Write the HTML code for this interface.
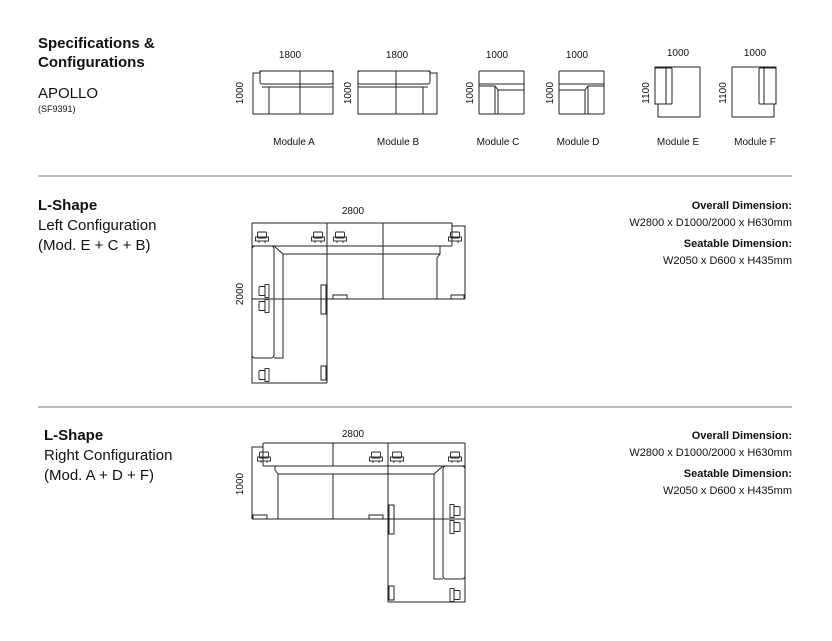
<!DOCTYPE html>
<html><head><meta charset="utf-8"><style>
html,body{margin:0;padding:0;background:#fff;}
svg{display:block;}
text{font-family:"Liberation Sans",Arial,sans-serif;fill:#111;}
</style></head><body>
<svg width="832" height="641" viewBox="0 0 832 641" xmlns="http://www.w3.org/2000/svg">
<defs>
<g id="ch" fill="none" stroke="#222" stroke-width="0.9">
<rect x="-4.5" y="-5" width="9" height="6" rx="1"/>
<rect x="-6.5" y="0" width="13" height="4"/>
<line x1="-3" y1="4" x2="-3" y2="6"/><line x1="3" y1="4" x2="3" y2="6"/>
</g>
<g id="chv" fill="none" stroke="#222" stroke-width="0.9">
<rect x="-5" y="-4.5" width="6" height="9" rx="1"/>
<rect x="1" y="-6.5" width="4" height="13"/>
</g>
</defs>
<text x="38" y="48" font-size="15" font-weight="bold">Specifications &amp;</text>
<text x="38" y="67" font-size="15" font-weight="bold">Configurations</text>
<text x="38" y="98" font-size="15">APOLLO</text>
<text x="38" y="112" font-size="9">(SF9391)</text>
<line x1="38" y1="176" x2="792" y2="176" stroke="#777" stroke-width="1"/>
<line x1="38" y1="407" x2="792" y2="407" stroke="#777" stroke-width="1"/>
<text x="38" y="210" font-size="15" font-weight="bold">L-Shape</text>
<text x="38" y="230" font-size="15">Left Configuration</text>
<text x="38" y="250" font-size="15">(Mod. E + C + B)</text>
<text x="44" y="440" font-size="15" font-weight="bold">L-Shape</text>
<text x="44" y="460" font-size="15">Right Configuration</text>
<text x="44" y="480" font-size="15">(Mod. A + D + F)</text>
<g font-size="11" text-anchor="end">
<text x="792" y="209" font-weight="bold">Overall Dimension:</text>
<text x="792" y="226">W2800 x D1000/2000 x H630mm</text>
<text x="792" y="247" font-weight="bold">Seatable Dimension:</text>
<text x="792" y="264">W2050 x D600 x H435mm</text>
<text x="792" y="439" font-weight="bold">Overall Dimension:</text>
<text x="792" y="456">W2800 x D1000/2000 x H630mm</text>
<text x="792" y="477" font-weight="bold">Seatable Dimension:</text>
<text x="792" y="494">W2050 x D600 x H435mm</text>
</g>
<g font-size="10" text-anchor="middle">
<text x="290" y="58">1800</text><text x="397" y="58">1800</text>
<text x="497" y="58">1000</text><text x="577" y="58">1000</text>
<text x="678" y="56">1000</text><text x="755" y="56">1000</text>
<text x="294" y="145">Module A</text>
<text x="398" y="145">Module B</text>
<text x="498" y="145">Module C</text>
<text x="578" y="145">Module D</text>
<text x="678" y="145">Module E</text>
<text x="755" y="145">Module F</text>
<text transform="translate(243,93) rotate(-90)">1000</text>
<text transform="translate(351,93) rotate(-90)">1000</text>
<text transform="translate(473,93) rotate(-90)">1000</text>
<text transform="translate(553,93) rotate(-90)">1000</text>
<text transform="translate(649,93) rotate(-90)">1100</text>
<text transform="translate(726,93) rotate(-90)">1100</text>
<text x="353" y="214">2800</text>
<text transform="translate(243,294) rotate(-90)">2000</text>
<text x="353" y="437">2800</text>
<text transform="translate(243,484) rotate(-90)">1000</text>
</g>
<g fill="none" stroke="#222" stroke-width="1">
<path d="M253 73 H260 V71 H333 V114 H253 Z"/>
<rect x="260" y="71" width="73" height="13" rx="2"/>
<line x1="300" y1="71" x2="300" y2="114"/>
<line x1="262" y1="87" x2="333" y2="87"/>
<line x1="269" y1="87" x2="269" y2="114"/>
<path d="M358 71 H430 V73 H437 V114 H358 Z"/>
<rect x="358" y="71" width="72" height="13" rx="2"/>
<line x1="396" y1="71" x2="396" y2="114"/>
<line x1="358" y1="87" x2="428" y2="87"/>
<line x1="423" y1="87" x2="423" y2="114"/>
<rect x="479" y="71" width="45" height="43" rx="1"/>
<line x1="479" y1="84" x2="524" y2="84"/>
<path d="M479 86 H495 L498 90 V114 M495 86 V114 M498 90 H524"/>
<rect x="559" y="71" width="45" height="43" rx="1"/>
<line x1="559" y1="84" x2="604" y2="84"/>
<path d="M604 86 H588 L585 90 V114 M588 86 V114 M585 90 H559"/>
<path d="M655 67 H700 V117 H658 V104 H655 Z"/>
<rect x="655" y="68" width="17" height="36" rx="1"/>
<line x1="666" y1="68" x2="666" y2="104"/>
<path d="M732 67 H776 V104 H774 V117 H732 Z"/>
<rect x="759" y="68" width="17" height="36" rx="1"/>
<line x1="764" y1="68" x2="764" y2="104"/>
</g>
<g fill="none" stroke="#222" stroke-width="1">
<rect x="252" y="223" width="200" height="23" rx="1"/>
<line x1="327" y1="223" x2="327" y2="383"/>
<line x1="383" y1="223" x2="383" y2="299"/>
<path d="M452 226 H465 V299"/>
<line x1="252" y1="299" x2="465" y2="299"/>
<path d="M252 246 V383 H327"/>
<rect x="252" y="246" width="22" height="112" rx="3"/>
<path d="M274 246 L283 254 V358 H274"/>
<path d="M283 254 H440 V246 M440 254 L437 258 V299"/>
<rect x="333" y="295" width="14" height="4"/>
<rect x="451" y="295" width="13" height="4"/>
<rect x="321" y="285" width="5" height="29"/>
<rect x="321" y="366" width="5" height="14"/>
</g>
<use href="#ch" x="262" y="237"/><use href="#ch" x="318" y="237"/>
<use href="#ch" x="340" y="237"/><use href="#ch" x="455" y="237"/>
<use href="#chv" x="264" y="291"/><use href="#chv" x="264" y="306"/>
<use href="#chv" x="264" y="375"/>
<g fill="none" stroke="#222" stroke-width="1">
<rect x="263" y="443" width="202" height="23" rx="1"/>
<line x1="333" y1="443" x2="333" y2="466"/>
<line x1="388" y1="443" x2="388" y2="602"/>
<path d="M263 447 H252 V519"/>
<line x1="252" y1="519" x2="465" y2="519"/>
<path d="M465 466 V602 H388"/>
<rect x="443" y="466" width="22" height="113" rx="3"/>
<path d="M443 466 L434 474 V579 H443"/>
<path d="M434 474 H278 L275 470 V466 M278 474 V519 M333 474 V519"/>
<rect x="253" y="515" width="14" height="4"/>
<rect x="369" y="515" width="14" height="4"/>
<rect x="389" y="505" width="5" height="29"/>
<rect x="389" y="586" width="5" height="14"/>
</g>
<use href="#ch" x="264" y="457"/><use href="#ch" x="376" y="457"/>
<use href="#ch" x="397" y="457"/><use href="#ch" x="455" y="457"/>
<g transform="translate(455,511) scale(-1,1)"><use href="#chv"/></g>
<g transform="translate(455,527) scale(-1,1)"><use href="#chv"/></g>
<g transform="translate(455,595) scale(-1,1)"><use href="#chv"/></g>
</svg>
</body></html>
